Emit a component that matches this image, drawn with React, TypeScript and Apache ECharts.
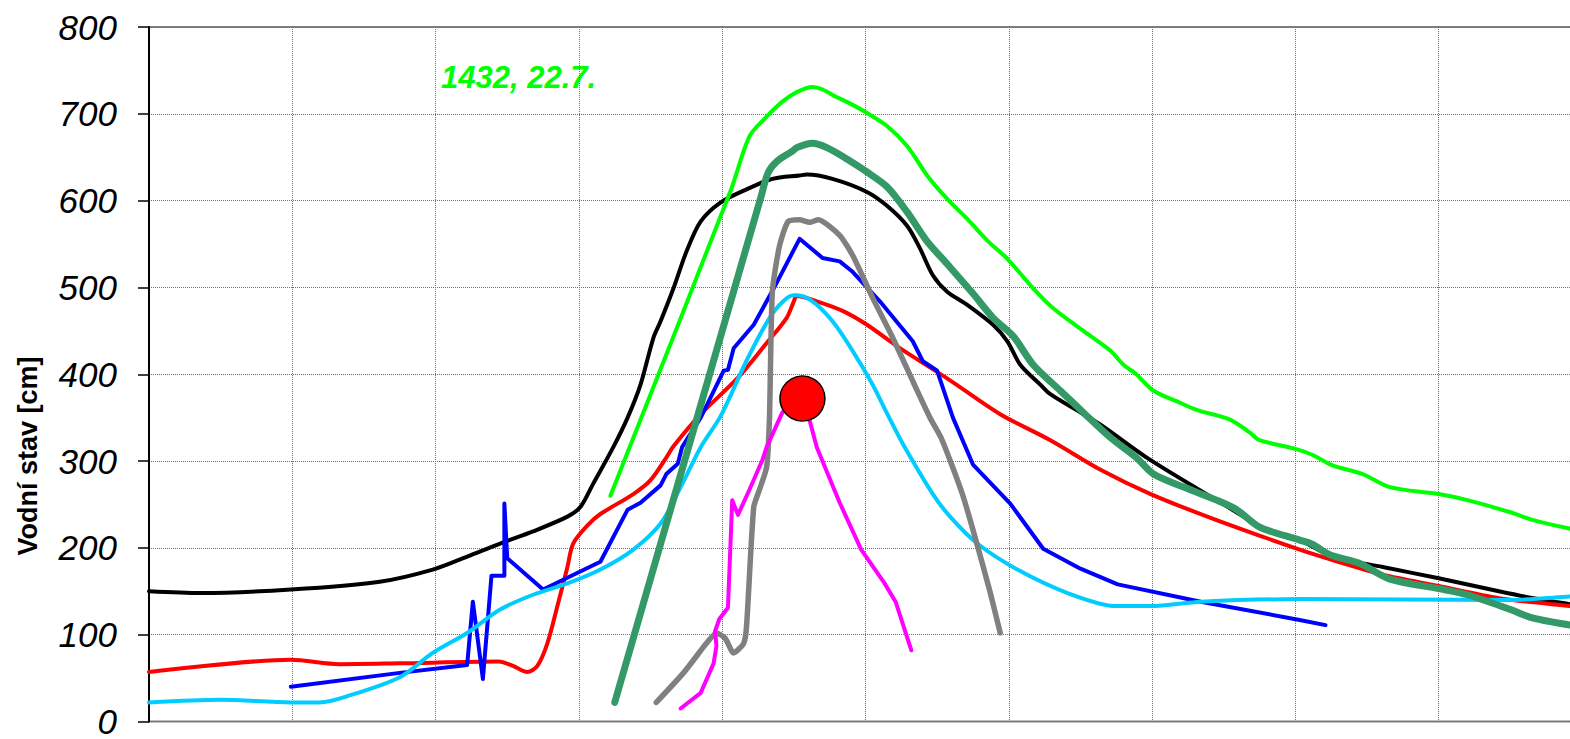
import React, { useEffect, useRef } from "react";
import * as echarts from "echarts";

// x: position in grid intervals (0..10), y: water level in cm
const blackLine: number[][] = [
  [0, 150], [0.36, 148], [0.99, 152], [1.61, 161], [1.98, 175], [2.22, 190], [2.45, 205], [2.68, 219],
  [2.92, 236], [3.01, 247], [3.1, 274], [3.24, 316], [3.34, 350], [3.43, 388], [3.52, 442], [3.57, 461],
  [3.66, 499], [3.75, 541], [3.85, 576], [3.99, 598], [4.17, 613], [4.35, 625], [4.54, 629], [4.59, 630],
  [4.77, 625], [5.01, 610], [5.15, 594], [5.29, 571], [5.38, 545], [5.47, 514], [5.57, 495], [5.71, 480],
  [5.89, 457], [5.99, 438], [6.08, 411], [6.22, 388], [6.29, 377], [6.5, 356], [6.64, 342], [6.99, 301],
  [7.45, 255], [7.8, 221], [8.03, 209], [8.26, 190], [8.61, 178], [9.0, 165], [9.42, 150], [9.66, 142],
  [9.92, 135], [10, 133],
];

const redLine: number[][] = [
  [0, 57], [0.99, 71], [1.33, 66], [1.75, 67], [2.44, 69], [2.54, 64], [2.64, 57], [2.71, 64], [2.78, 90],
  [2.85, 133], [2.92, 178], [2.96, 205], [3.06, 226], [3.15, 239], [3.38, 262], [3.5, 278], [3.61, 304],
  [3.66, 317], [3.85, 354], [4.11, 396], [4.32, 438], [4.45, 465], [4.5, 484], [4.52, 490], [4.66, 484],
  [4.84, 473], [5.01, 457], [5.24, 430], [5.59, 393], [5.94, 354], [6.29, 324], [6.64, 290], [6.99, 262],
  [7.45, 232], [8.03, 198], [8.26, 186], [8.61, 169], [9.0, 156], [9.42, 142], [9.92, 133], [10, 132],
];

const cyanLine: number[][] = [
  [0, 22], [0.5, 25], [0.99, 22], [1.19, 22], [1.4, 30], [1.75, 51], [1.98, 79], [2.22, 102], [2.45, 129],
  [2.68, 146], [2.92, 159], [3.15, 175], [3.38, 198], [3.57, 228], [3.71, 270], [3.85, 316], [3.99, 352],
  [4.18, 419], [4.36, 472], [4.5, 491], [4.52, 491], [4.63, 484], [4.77, 461], [4.91, 427], [5.05, 388],
  [5.15, 355], [5.26, 320], [5.47, 262], [5.59, 236], [5.78, 205], [6.06, 175], [6.41, 148], [6.75, 133],
  [6.99, 133], [7.34, 138], [8.03, 141], [9.5, 140], [9.92, 144], [10, 145],
];

const blueLine: number[][] = [
  [0.99, 40], [1.75, 56], [2.22, 65], [2.26, 138], [2.33, 49], [2.39, 168], [2.48, 168], [2.48, 251],
  [2.5, 188], [2.75, 152], [3.15, 184], [3.34, 244], [3.43, 252], [3.57, 272], [3.61, 285], [3.69, 297],
  [3.72, 316], [3.85, 350], [4.01, 404], [4.04, 405], [4.08, 430], [4.22, 457], [4.36, 499], [4.54, 556],
  [4.7, 534], [4.82, 530], [4.91, 518], [5.1, 484], [5.33, 438], [5.4, 415], [5.5, 404], [5.61, 350],
  [5.75, 296], [6.01, 251], [6.24, 199], [6.5, 176], [6.76, 158], [7.34, 138], [8.03, 117], [8.21, 111],
];

const limeLine: number[][] = [
  [3.22, 260], [4.06, 612], [4.19, 674], [4.3, 695], [4.42, 714], [4.52, 725], [4.63, 731], [4.7, 728],
  [4.79, 720], [4.89, 712], [5.01, 701], [5.15, 686], [5.29, 663], [5.43, 629], [5.57, 602], [5.71, 579],
  [5.85, 554], [5.99, 533], [6.17, 499], [6.31, 476], [6.52, 450], [6.71, 427], [6.8, 411], [6.89, 400],
  [7.01, 381], [7.17, 369], [7.31, 359], [7.54, 348], [7.68, 333], [7.75, 324], [8.0, 314], [8.12, 307],
  [8.26, 295], [8.47, 285], [8.66, 270], [9.0, 262], [9.2, 255], [9.5, 241], [9.66, 232], [9.92, 222],
  [10, 220],
];

const seaGreenLine: number[][] = [
  [3.25, 22], [4.27, 604], [4.32, 632], [4.38, 645], [4.49, 657], [4.52, 661], [4.63, 666], [4.73, 661],
  [4.87, 648], [5.01, 633], [5.15, 616], [5.29, 587], [5.43, 553], [5.57, 527], [5.75, 493], [5.89, 465],
  [6.03, 444], [6.17, 411], [6.36, 381], [6.52, 356], [6.71, 327], [6.89, 304], [7.01, 285], [7.22, 270],
  [7.45, 255], [7.59, 244], [7.75, 224], [8.03, 209], [8.12, 204], [8.24, 192], [8.45, 182], [8.66, 164],
  [9.0, 153], [9.2, 146], [9.5, 129], [9.66, 119], [9.92, 111], [10, 109],
];

const grayLine: number[][] = [
  [3.54, 22], [3.73, 56], [3.89, 90], [3.96, 102], [4.02, 96], [4.08, 79], [4.15, 90], [4.17, 110],
  [4.22, 247], [4.26, 267], [4.31, 293], [4.33, 350], [4.35, 495], [4.4, 548], [4.46, 576], [4.54, 578],
  [4.61, 575], [4.67, 578], [4.82, 560], [4.91, 537], [5.05, 488], [5.19, 442], [5.33, 392], [5.45, 350],
  [5.53, 326], [5.68, 260], [5.86, 155], [5.94, 102],
];

const magentaLine: number[][] = [
  [3.71, 15], [3.85, 33], [3.94, 67], [3.96, 87], [3.95, 104], [3.98, 118], [4.04, 131], [4.07, 255],
  [4.11, 238], [4.19, 267], [4.28, 301], [4.31, 316], [4.42, 356], [4.56, 373], [4.61, 347], [4.66, 316],
  [4.82, 252], [4.97, 198], [5.13, 160], [5.21, 138], [5.32, 82],
];

const currentPoint: number[][] = [[4.56, 372]];

const yMin = 0;
const yMax = 800;
const yStep = 100;
const xMin = 0;
const xMax = 10;
const xStep = 1;

const annotationText = "1432, 22.7.";
const yAxisTitle = "Vodní stav [cm]";

const FONT = '"Liberation Sans", Arial, Helvetica, sans-serif';

export default function App() {
  const ref = useRef<HTMLDivElement>(null);

  useEffect(() => {
    if (!ref.current) return;
    const chart = echarts.init(ref.current, null, { renderer: "svg" });

    const line = (name: string, data: number[][], color: string, width: number, smooth: number | boolean, z: number) => ({
      type: "line",
      name,
      data,
      symbol: "none",
      smooth,
      lineStyle: { color, width, cap: "round", join: "round" },
      itemStyle: { color },
      z,
      silent: true,
    });

    chart.setOption({
      animation: false,
      backgroundColor: "#ffffff",
      grid: {
        left: 149,
        top: 27,
        width: 1433,
        height: 699,
        show: true,
        borderColor: "#808080",
        borderWidth: 2,
        backgroundColor: "transparent",
      },
      xAxis: {
        type: "value",
        min: xMin,
        max: xMax,
        interval: xStep,
        axisLine: { show: false },
        axisTick: { show: false },
        axisLabel: { show: false },
        splitLine: { show: true, lineStyle: { color: "#6f6f6f", width: 1, type: [1, 1] } },
      },
      yAxis: {
        type: "value",
        min: yMin,
        max: yMax,
        interval: yStep,
        axisLine: { show: true, lineStyle: { color: "#000000", width: 2 } },
        axisTick: { show: true, length: 11, lineStyle: { color: "#000000", width: 1.5 } },
        axisLabel: {
          margin: 32,
          fontSize: 35,
          fontStyle: "italic",
          fontFamily: FONT,
          color: "#000000",
        },
        splitLine: { show: true, lineStyle: { color: "#6f6f6f", width: 1, type: [1, 1] } },
      },
      series: [
        line("black", blackLine, "#000000", 4, 0.3, 2),
        line("red", redLine, "#FF0000", 4, 0.3, 3),
        line("blue", blueLine, "#0000FF", 4, false, 4),
        line("cyan", cyanLine, "#00CCFF", 4, 0.3, 5),
        line("lime", limeLine, "#00FF00", 4, 0.3, 6),
        line("seagreen", seaGreenLine, "#339966", 7, 0.3, 7),
        line("gray", grayLine, "#808080", 5.5, 0.2, 8),
        line("magenta", magentaLine, "#FF00FF", 4, false, 9),
        {
          type: "scatter",
          data: currentPoint,
          symbol: "circle",
          symbolSize: 45,
          itemStyle: { color: "#FF0000", borderColor: "#000000", borderWidth: 1.5, opacity: 1 },
          z: 10,
          silent: true,
        },
      ],
      graphic: [
        {
          type: "text",
          x: 28,
          y: 456,
          rotation: Math.PI / 2,
          style: {
            text: yAxisTitle,
            fontSize: 27,
            fontWeight: "bold",
            fontFamily: FONT,
            fill: "#000000",
            align: "center",
            verticalAlign: "middle",
          },
        },
        {
          type: "text",
          x: 441,
          y: 77,
          style: {
            text: annotationText,
            fontSize: 31,
            fontWeight: "bold",
            fontStyle: "italic",
            fontFamily: FONT,
            fill: "#00FF00",
            align: "left",
            verticalAlign: "middle",
          },
        },
      ],
    });

    return () => chart.dispose();
  }, []);

  return (
    <div
      style={{
        position: "fixed",
        left: 0,
        top: 0,
        width: 1570,
        height: 739,
        overflow: "hidden",
        background: "#ffffff",
      }}
    >
      <div ref={ref} style={{ width: 1600, height: 739 }} />
    </div>
  );
}
